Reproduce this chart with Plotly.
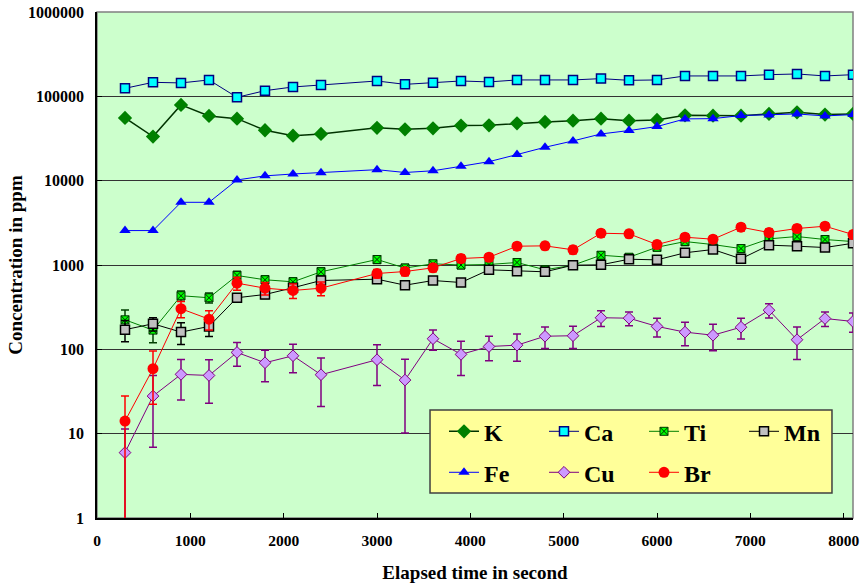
import plotly.graph_objects as go

# ---- data ----
time_s = [300, 600, 900, 1200, 1500, 1800, 2100, 2400, 3000, 3300, 3600, 3900, 4200,
          4500, 4800, 5100, 5400, 5700, 6000, 6300, 6600, 6900, 7200, 7500, 7800, 8100]

K = [55500, 33300, 79100, 58600, 54400, 39600, 34200, 35800, 42300, 40600, 41800, 45000, 45300,
     47900, 49700, 51500, 54400, 51500, 52500, 59500, 59000, 59000, 61800, 64600, 60700, 61800]
Ca = [124400, 146600, 144200, 156400, 97300, 116800, 129100, 136400, 152100, 138700, 145300, 152100, 148200,
      156400, 156400, 156400, 162200, 154800, 156400, 174500, 174500, 174500, 180700, 184100, 174500, 180700]
Ti = [224, 169, 432, 409, 751, 668, 632, 830, 1162, 920, 1033, 1000, 1014,
      1071, 877, 995, 1306, 1236, 1625, 1897, 1748, 1567, 2042, 2176, 2005, 1897]
Ti_err = [68, 49, 60, 55, 90, 80, 75, 100, 120, 100, 100, 100, 100,
          110, 90, 100, 130, 120, 160, 190, 170, 160, 200, 210, 200, 190]
Mn = [171, 201, 160, 187, 409, 447, 537, 655, 679, 576, 655, 620, 877,
      845, 830, 995, 1005, 1171, 1151, 1396, 1527, 1184, 1718, 1671, 1611, 1811]
Mn_err = [48, 36, 46, 45, 40, 45, 50, 60, 60, 55, 60, 55, 80,
          80, 75, 90, 90, 100, 100, 120, 130, 100, 150, 150, 140, 160]
Fe = [2560, 2560, 5540, 5540, 10200, 11400, 12000, 12400, 13500, 12500, 13100, 14800, 16800,
      20400, 24900, 29600, 35800, 39300, 43800, 54000, 54400, 59200, 60200, 61800, 58600, 60700]
Cu = [5.96, 27.9, 50.5, 49, 91.9, 69.3, 83.9, 50, 75.3, 43.2, 133.6, 87.1, 108,
      112, 143, 145, 237, 234, 187, 160, 147, 183, 291, 130, 232, 214]
Cu_err = [5.4, 21, 25.5, 26, 29, 28, 31, 29, 38, 33, 36, 38, 35,
          40, 41, 43, 50, 44, 47, 50, 51, 50, 55, 54, 46, 55]
Br = [14.1, 58.9, 303, 228, 609, 531, 499, 531, 793, 837, 926, 1194, 1236,
      1671, 1687, 1514, 2381, 2342, 1748, 2135, 2022, 2806, 2427, 2709, 2883, 2298]
Br_err = [13.8, 36.5, 66, 59, 106, 90, 98, 99, 90, 90, 95, 120, 120,
          160, 160, 150, 230, 230, 170, 210, 200, 270, 240, 260, 280, 220]

y_ticks = [1, 10, 100, 1000, 10000, 100000, 1000000]
x_ticks = [0, 1000, 2000, 3000, 4000, 5000, 6000, 7000, 8000]

FONT = "Liberation Serif"

fig = go.Figure()

def add(name, y, sym, size, mcolor, mline_c, mline_w, lcolor, lwidth, legend, err=None, ecolor=None):
    kw = {}
    if err is not None:
        kw["error_y"] = dict(type="data", array=err, visible=True, color=ecolor,
                             thickness=1.5, width=4)
    fig.add_trace(go.Scatter(
        x=time_s, y=y, name="<b>" + name + "</b>", mode="lines+markers", legend=legend,
        line=dict(color=lcolor, width=lwidth),
        marker=dict(symbol=sym, size=size, color=mcolor,
                    line=dict(color=mline_c, width=mline_w)),
        **kw))

add("K", K, "diamond", 11, "#008000", "#008000", 0, "#003300", 1.5, "legend")
add("Ca", Ca, "square", 9, "#00FFFF", "#000080", 1.5, "#000080", 1, "legend")
add("Ti", Ti, "square-x", 8, "#00FF00", "#003300", 1, "#008000", 1, "legend", Ti_err, "#004000")
add("Mn", Mn, "square", 9, "#C0C0C0", "#000000", 1.5, "#000000", 1, "legend", Mn_err, "#000000")
add("Fe", Fe, "triangle-up", 10, "#0000FF", "#0000FF", 0, "#0000FF", 1, "legend2")
add("Cu", Cu, "diamond", 9, "#CC99FF", "#800080", 1, "#800080", 1, "legend2", Cu_err, "#800080")
add("Br", Br, "circle", 11, "#FF0000", "#FF0000", 0, "#FF0000", 1, "legend2", Br_err, "#FF0000")

legend_common = dict(
    orientation="h", bgcolor="rgba(0,0,0,0)", borderwidth=0,
    font=dict(family=FONT, size=24, color="#000000", weight="bold"),
    entrywidth=55, entrywidthmode="pixels",
    xanchor="left", yanchor="top", traceorder="normal",
)

fig.update_layout(
    width=860, height=587,
    margin=dict(l=97, r=7, t=12, b=69),
    paper_bgcolor="white",
    plot_bgcolor="#CCFFCC",
    font=dict(family=FONT, size=15, color="#000000"),
    showlegend=True,
    legend=dict(x=0.4590, y=0.2150, **legend_common),
    legend2=dict(x=0.4590, y=0.1340, **legend_common),
    xaxis=dict(
        range=[0, 8100], tickvals=x_ticks, ticktext=[str(v) for v in x_ticks],
        showgrid=False, zeroline=False, showline=True, linecolor="#000000", linewidth=1.5,
        ticks="inside", ticklen=5, tickcolor="#000000", automargin=False,
        tickfont=dict(family=FONT, size=15.5, color="#000000", weight="bold"),
        ticklabelstandoff=8,
        title=dict(text="<b>Elapsed time in second</b>", font=dict(family=FONT, size=19), standoff=17),
    ),
    yaxis=dict(
        type="log", range=[0, 6], tickvals=y_ticks, ticktext=[str(v) for v in y_ticks],
        showgrid=True, gridcolor="#333333", gridwidth=1, zeroline=False,
        showline=True, linecolor="#000000", linewidth=1.5,
        ticks="inside", ticklen=5, tickcolor="#000000", automargin=False,
        tickfont=dict(family=FONT, size=16, color="#000000", weight="bold"),
        ticklabelstandoff=8,
        title=dict(text="<b>Concentration in ppm</b>", font=dict(family=FONT, size=19), standoff=0),
    ),
    shapes=[
        dict(type="rect", xref="paper", yref="paper", x0=0, x1=1, y0=0, y1=1,
             line=dict(color="#808080", width=1.5), layer="below"),
        dict(type="rect", xref="paper", yref="paper", x0=0.4405, x1=0.9722, y0=0.0494, y1=0.2133,
             fillcolor="#FFFF99", line=dict(color="#404040", width=1.5), layer="above"),
    ],
)

fig.write_html("out.html")
